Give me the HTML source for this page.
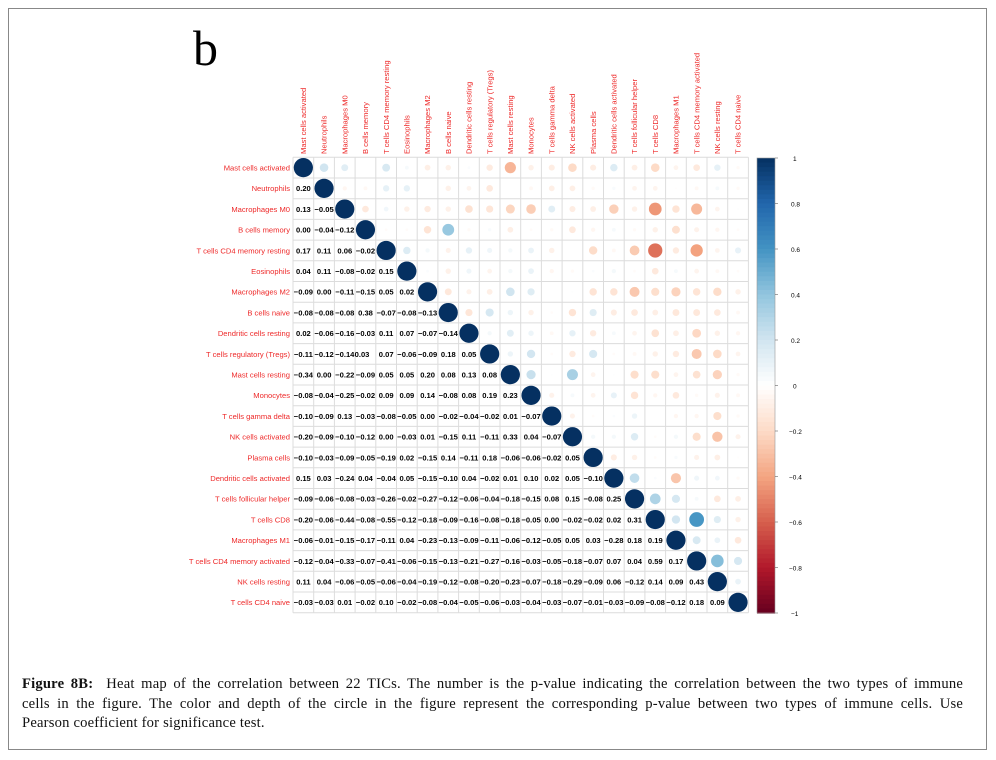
<!DOCTYPE html>
<html><head><meta charset="utf-8"><style>
body{margin:0;background:#fff;width:996px;height:760px;overflow:hidden;position:relative}
#frame{position:absolute;left:8px;top:8px;width:979px;height:742px;border:1px solid #888;box-sizing:border-box}
#cap{position:absolute;left:22px;top:675px;width:941px;font-family:"Liberation Serif",serif;font-size:14.6px;line-height:19.5px;color:#111;letter-spacing:0.2px}
#cap div{text-align:justify;text-align-last:justify;white-space:nowrap}
#cap div.last{text-align-last:left}
svg{position:absolute;left:0;top:0}
.n{font-family:"Liberation Sans",sans-serif;font-size:7.6px;font-weight:bold;text-anchor:middle;fill:#000}
.l{font-family:"Liberation Sans",sans-serif;font-size:7.6px;fill:#ee2a2a}
.t{font-family:"Liberation Sans",sans-serif;font-size:6.5px;fill:#000}
</style></head><body>
<div id="frame"></div>
<svg id="s" width="996" height="760" xmlns="http://www.w3.org/2000/svg">
<text x="193" y="65" font-family="Liberation Serif,serif" font-size="50">b</text>
<g id="grid"></g><g id="circ"></g><g id="cb"></g>
<g class="l" text-anchor="end">
<text x="290" y="170.5">Mast cells activated</text>
<text x="290" y="191.2">Neutrophils</text>
<text x="290" y="211.9">Macrophages M0</text>
<text x="290" y="232.6">B cells memory</text>
<text x="290" y="253.3">T cells CD4 memory resting</text>
<text x="290" y="274">Eosinophils</text>
<text x="290" y="294.7">Macrophages M2</text>
<text x="290" y="315.4">B cells naive</text>
<text x="290" y="336.1">Dendritic cells resting</text>
<text x="290" y="356.8">T cells regulatory (Tregs)</text>
<text x="290" y="377.5">Mast cells resting</text>
<text x="290" y="398.2">Monocytes</text>
<text x="290" y="418.9">T cells gamma delta</text>
<text x="290" y="439.6">NK cells activated</text>
<text x="290" y="460.3">Plasma cells</text>
<text x="290" y="481">Dendritic cells activated</text>
<text x="290" y="501.7">T cells follicular helper</text>
<text x="290" y="522.4">T cells CD8</text>
<text x="290" y="543.1">Macrophages M1</text>
<text x="290" y="563.8">T cells CD4 memory activated</text>
<text x="290" y="584.5">NK cells resting</text>
<text x="290" y="605.2">T cells CD4 naive</text>
</g>
<g class="l">
<text transform="translate(306,154) rotate(-90)">Mast cells activated</text>
<text transform="translate(326.7,154) rotate(-90)">Neutrophils</text>
<text transform="translate(347.4,154) rotate(-90)">Macrophages M0</text>
<text transform="translate(368.1,154) rotate(-90)">B cells memory</text>
<text transform="translate(388.8,154) rotate(-90)">T cells CD4 memory resting</text>
<text transform="translate(409.5,154) rotate(-90)">Eosinophils</text>
<text transform="translate(430.2,154) rotate(-90)">Macrophages M2</text>
<text transform="translate(450.9,154) rotate(-90)">B cells naive</text>
<text transform="translate(471.6,154) rotate(-90)">Dendritic cells resting</text>
<text transform="translate(492.3,154) rotate(-90)">T cells regulatory (Tregs)</text>
<text transform="translate(513,154) rotate(-90)">Mast cells resting</text>
<text transform="translate(533.7,154) rotate(-90)">Monocytes</text>
<text transform="translate(554.4,154) rotate(-90)">T cells gamma delta</text>
<text transform="translate(575.1,154) rotate(-90)">NK cells activated</text>
<text transform="translate(595.8,154) rotate(-90)">Plasma cells</text>
<text transform="translate(616.5,154) rotate(-90)">Dendritic cells activated</text>
<text transform="translate(637.2,154) rotate(-90)">T cells follicular helper</text>
<text transform="translate(657.9,154) rotate(-90)">T cells CD8</text>
<text transform="translate(678.6,154) rotate(-90)">Macrophages M1</text>
<text transform="translate(699.3,154) rotate(-90)">T cells CD4 memory activated</text>
<text transform="translate(720,154) rotate(-90)">NK cells resting</text>
<text transform="translate(740.7,154) rotate(-90)">T cells CD4 naive</text>
</g>
<g class="n">
<text y="191.2"><tspan x="303.4">0.20</tspan></text>
<text y="211.9"><tspan x="303.4">0.13</tspan><tspan x="324.1">−0.05</tspan></text>
<text y="232.6"><tspan x="303.4">0.00</tspan><tspan x="324.1">−0.04</tspan><tspan x="344.8">−0.12</tspan></text>
<text y="253.3"><tspan x="303.4">0.17</tspan><tspan x="324.1">0.11</tspan><tspan x="344.8">0.06</tspan><tspan x="365.5">−0.02</tspan></text>
<text y="274"><tspan x="303.4">0.04</tspan><tspan x="324.1">0.11</tspan><tspan x="344.8">−0.08</tspan><tspan x="365.5">−0.02</tspan><tspan x="386.2">0.15</tspan></text>
<text y="294.7"><tspan x="303.4">−0.09</tspan><tspan x="324.1">0.00</tspan><tspan x="344.8">−0.11</tspan><tspan x="365.5">−0.15</tspan><tspan x="386.2">0.05</tspan><tspan x="406.9">0.02</tspan></text>
<text y="315.4"><tspan x="303.4">−0.08</tspan><tspan x="324.1">−0.08</tspan><tspan x="344.8">−0.08</tspan><tspan x="365.5">0.38</tspan><tspan x="386.2">−0.07</tspan><tspan x="406.9">−0.08</tspan><tspan x="427.6">−0.13</tspan></text>
<text y="336.1"><tspan x="303.4">0.02</tspan><tspan x="324.1">−0.06</tspan><tspan x="344.8">−0.16</tspan><tspan x="365.5">−0.03</tspan><tspan x="386.2">0.11</tspan><tspan x="406.9">0.07</tspan><tspan x="427.6">−0.07</tspan><tspan x="448.3">−0.14</tspan></text>
<text y="356.8"><tspan x="303.4">−0.11</tspan><tspan x="324.1">−0.12</tspan><tspan x="344.8">−0.14</tspan><tspan x="362">0.03</tspan><tspan x="386.2">0.07</tspan><tspan x="406.9">−0.06</tspan><tspan x="427.6">−0.09</tspan><tspan x="448.3">0.18</tspan><tspan x="469">0.05</tspan></text>
<text y="377.5"><tspan x="303.4">−0.34</tspan><tspan x="324.1">0.00</tspan><tspan x="344.8">−0.22</tspan><tspan x="365.5">−0.09</tspan><tspan x="386.2">0.05</tspan><tspan x="406.9">0.05</tspan><tspan x="427.6">0.20</tspan><tspan x="448.3">0.08</tspan><tspan x="469">0.13</tspan><tspan x="489.7">0.08</tspan></text>
<text y="398.2"><tspan x="303.4">−0.08</tspan><tspan x="324.1">−0.04</tspan><tspan x="344.8">−0.25</tspan><tspan x="365.5">−0.02</tspan><tspan x="386.2">0.09</tspan><tspan x="406.9">0.09</tspan><tspan x="427.6">0.14</tspan><tspan x="448.3">−0.08</tspan><tspan x="469">0.08</tspan><tspan x="489.7">0.19</tspan><tspan x="510.4">0.23</tspan></text>
<text y="418.9"><tspan x="303.4">−0.10</tspan><tspan x="324.1">−0.09</tspan><tspan x="344.8">0.13</tspan><tspan x="365.5">−0.03</tspan><tspan x="386.2">−0.08</tspan><tspan x="406.9">−0.05</tspan><tspan x="427.6">0.00</tspan><tspan x="448.3">−0.02</tspan><tspan x="469">−0.04</tspan><tspan x="489.7">−0.02</tspan><tspan x="510.4">0.01</tspan><tspan x="531.1">−0.07</tspan></text>
<text y="439.6"><tspan x="303.4">−0.20</tspan><tspan x="324.1">−0.09</tspan><tspan x="344.8">−0.10</tspan><tspan x="365.5">−0.12</tspan><tspan x="386.2">0.00</tspan><tspan x="406.9">−0.03</tspan><tspan x="427.6">0.01</tspan><tspan x="448.3">−0.15</tspan><tspan x="469">0.11</tspan><tspan x="489.7">−0.11</tspan><tspan x="510.4">0.33</tspan><tspan x="531.1">0.04</tspan><tspan x="551.8">−0.07</tspan></text>
<text y="460.3"><tspan x="303.4">−0.10</tspan><tspan x="324.1">−0.03</tspan><tspan x="344.8">−0.09</tspan><tspan x="365.5">−0.05</tspan><tspan x="386.2">−0.19</tspan><tspan x="406.9">0.02</tspan><tspan x="427.6">−0.15</tspan><tspan x="448.3">0.14</tspan><tspan x="469">−0.11</tspan><tspan x="489.7">0.18</tspan><tspan x="510.4">−0.06</tspan><tspan x="531.1">−0.06</tspan><tspan x="551.8">−0.02</tspan><tspan x="572.5">0.05</tspan></text>
<text y="481"><tspan x="303.4">0.15</tspan><tspan x="324.1">0.03</tspan><tspan x="344.8">−0.24</tspan><tspan x="365.5">0.04</tspan><tspan x="386.2">−0.04</tspan><tspan x="406.9">0.05</tspan><tspan x="427.6">−0.15</tspan><tspan x="448.3">−0.10</tspan><tspan x="469">0.04</tspan><tspan x="489.7">−0.02</tspan><tspan x="510.4">0.01</tspan><tspan x="531.1">0.10</tspan><tspan x="551.8">0.02</tspan><tspan x="572.5">0.05</tspan><tspan x="593.2">−0.10</tspan></text>
<text y="501.7"><tspan x="303.4">−0.09</tspan><tspan x="324.1">−0.06</tspan><tspan x="344.8">−0.08</tspan><tspan x="365.5">−0.03</tspan><tspan x="386.2">−0.26</tspan><tspan x="406.9">−0.02</tspan><tspan x="427.6">−0.27</tspan><tspan x="448.3">−0.12</tspan><tspan x="469">−0.06</tspan><tspan x="489.7">−0.04</tspan><tspan x="510.4">−0.18</tspan><tspan x="531.1">−0.15</tspan><tspan x="551.8">0.08</tspan><tspan x="572.5">0.15</tspan><tspan x="593.2">−0.08</tspan><tspan x="613.9">0.25</tspan></text>
<text y="522.4"><tspan x="303.4">−0.20</tspan><tspan x="324.1">−0.06</tspan><tspan x="344.8">−0.44</tspan><tspan x="365.5">−0.08</tspan><tspan x="386.2">−0.55</tspan><tspan x="406.9">−0.12</tspan><tspan x="427.6">−0.18</tspan><tspan x="448.3">−0.09</tspan><tspan x="469">−0.16</tspan><tspan x="489.7">−0.08</tspan><tspan x="510.4">−0.18</tspan><tspan x="531.1">−0.05</tspan><tspan x="551.8">0.00</tspan><tspan x="572.5">−0.02</tspan><tspan x="593.2">−0.02</tspan><tspan x="613.9">0.02</tspan><tspan x="634.6">0.31</tspan></text>
<text y="543.1"><tspan x="303.4">−0.06</tspan><tspan x="324.1">−0.01</tspan><tspan x="344.8">−0.15</tspan><tspan x="365.5">−0.17</tspan><tspan x="386.2">−0.11</tspan><tspan x="406.9">0.04</tspan><tspan x="427.6">−0.23</tspan><tspan x="448.3">−0.13</tspan><tspan x="469">−0.09</tspan><tspan x="489.7">−0.11</tspan><tspan x="510.4">−0.06</tspan><tspan x="531.1">−0.12</tspan><tspan x="551.8">−0.05</tspan><tspan x="572.5">0.05</tspan><tspan x="593.2">0.03</tspan><tspan x="613.9">−0.28</tspan><tspan x="634.6">0.18</tspan><tspan x="655.3">0.19</tspan></text>
<text y="563.8"><tspan x="303.4">−0.12</tspan><tspan x="324.1">−0.04</tspan><tspan x="344.8">−0.33</tspan><tspan x="365.5">−0.07</tspan><tspan x="386.2">−0.41</tspan><tspan x="406.9">−0.06</tspan><tspan x="427.6">−0.15</tspan><tspan x="448.3">−0.13</tspan><tspan x="469">−0.21</tspan><tspan x="489.7">−0.27</tspan><tspan x="510.4">−0.16</tspan><tspan x="531.1">−0.03</tspan><tspan x="551.8">−0.05</tspan><tspan x="572.5">−0.18</tspan><tspan x="593.2">−0.07</tspan><tspan x="613.9">0.07</tspan><tspan x="634.6">0.04</tspan><tspan x="655.3">0.59</tspan><tspan x="676">0.17</tspan></text>
<text y="584.5"><tspan x="303.4">0.11</tspan><tspan x="324.1">0.04</tspan><tspan x="344.8">−0.06</tspan><tspan x="365.5">−0.05</tspan><tspan x="386.2">−0.06</tspan><tspan x="406.9">−0.04</tspan><tspan x="427.6">−0.19</tspan><tspan x="448.3">−0.12</tspan><tspan x="469">−0.08</tspan><tspan x="489.7">−0.20</tspan><tspan x="510.4">−0.23</tspan><tspan x="531.1">−0.07</tspan><tspan x="551.8">−0.18</tspan><tspan x="572.5">−0.29</tspan><tspan x="593.2">−0.09</tspan><tspan x="613.9">0.06</tspan><tspan x="634.6">−0.12</tspan><tspan x="655.3">0.14</tspan><tspan x="676">0.09</tspan><tspan x="696.7">0.43</tspan></text>
<text y="605.2"><tspan x="303.4">−0.03</tspan><tspan x="324.1">−0.03</tspan><tspan x="344.8">0.01</tspan><tspan x="365.5">−0.02</tspan><tspan x="386.2">0.10</tspan><tspan x="406.9">−0.02</tspan><tspan x="427.6">−0.08</tspan><tspan x="448.3">−0.04</tspan><tspan x="469">−0.05</tspan><tspan x="489.7">−0.06</tspan><tspan x="510.4">−0.03</tspan><tspan x="531.1">−0.04</tspan><tspan x="551.8">−0.03</tspan><tspan x="572.5">−0.07</tspan><tspan x="593.2">−0.01</tspan><tspan x="613.9">−0.03</tspan><tspan x="634.6">−0.09</tspan><tspan x="655.3">−0.08</tspan><tspan x="676">−0.12</tspan><tspan x="696.7">0.18</tspan><tspan x="717.4">0.09</tspan></text>
</g>
<g class="t">
<text x="793" y="161">1</text><text x="791" y="206.5">0.8</text><text x="791" y="252">0.6</text><text x="791" y="297.5">0.4</text><text x="791" y="343">0.2</text><text x="793" y="388.5">0</text><text x="789" y="434">−0.2</text><text x="789" y="479.5">−0.4</text><text x="789" y="525">−0.6</text><text x="789" y="570.5">−0.8</text><text x="791" y="616">−1</text>
</g>
</svg>
<div id="cap">
<div><b>Figure 8B:</b>&nbsp; Heat map of the correlation between 22 TICs. The number is the p-value indicating the correlation between the two types of immune</div>
<div>cells in the figure. The color and depth of the circle in the figure represent the corresponding p-value between two types of immune cells. Use</div>
<div class="last">Pearson coefficient for significance test.</div>
</div>
<script>
var L=[[],[.20],[.13,-.05],[0,-.04,-.12],[.17,.11,.06,-.02],[.04,.11,-.08,-.02,.15],[-.09,0,-.11,-.15,.05,.02],[-.08,-.08,-.08,.38,-.07,-.08,-.13],[.02,-.06,-.16,-.03,.11,.07,-.07,-.14],[-.11,-.12,-.14,.03,.07,-.06,-.09,.18,.05],[-.34,0,-.22,-.09,.05,.05,.20,.08,.13,.08],[-.08,-.04,-.25,-.02,.09,.09,.14,-.08,.08,.19,.23],[-.10,-.09,.13,-.03,-.08,-.05,0,-.02,-.04,-.02,.01,-.07],[-.20,-.09,-.10,-.12,0,-.03,.01,-.15,.11,-.11,.33,.04,-.07],[-.10,-.03,-.09,-.05,-.19,.02,-.15,.14,-.11,.18,-.06,-.06,-.02,.05],[.15,.03,-.24,.04,-.04,.05,-.15,-.10,.04,-.02,.01,.10,.02,.05,-.10],[-.09,-.06,-.08,-.03,-.26,-.02,-.27,-.12,-.06,-.04,-.18,-.15,.08,.15,-.08,.25],[-.20,-.06,-.44,-.08,-.55,-.12,-.18,-.09,-.16,-.08,-.18,-.05,0,-.02,-.02,.02,.31],[-.06,-.01,-.15,-.17,-.11,.04,-.23,-.13,-.09,-.11,-.06,-.12,-.05,.05,.03,-.28,.18,.19],[-.12,-.04,-.33,-.07,-.41,-.06,-.15,-.13,-.21,-.27,-.16,-.03,-.05,-.18,-.07,.07,.04,.59,.17],[.11,.04,-.06,-.05,-.06,-.04,-.19,-.12,-.08,-.20,-.23,-.07,-.18,-.29,-.09,.06,-.12,.14,.09,.43],[-.03,-.03,.01,-.02,.10,-.02,-.08,-.04,-.05,-.06,-.03,-.04,-.03,-.07,-.01,-.03,-.09,-.08,-.12,.18,.09]];
var P=[[103,0,31],[178,24,43],[214,96,77],[244,165,130],[253,219,199],[255,255,255],[209,229,240],[146,197,222],[67,147,195],[33,102,172],[5,48,97]];
function col(v){var t=(v+1)*5;var i=Math.min(9,Math.floor(t)),f=t-i;var a=P[i],b=P[i+1];return 'rgb('+[0,1,2].map(function(k){return Math.round(a[k]+(b[k]-a[k])*f)}).join(',')+')';}
var NS='http://www.w3.org/2000/svg',g=document.getElementById('grid'),c=document.getElementById('circ'),cb=document.getElementById('cb');
function el(p,t,a){var e=document.createElementNS(NS,t);for(var k in a)e.setAttribute(k,a[k]);p.appendChild(e);return e;}
var x0=293,y0=157.3,s=20.7;
for(var i=0;i<=22;i++){el(g,'line',{x1:x0,x2:x0+22*s,y1:y0+i*s,y2:y0+i*s,stroke:'#dcdcdc','stroke-width':1});el(g,'line',{y1:y0,y2:y0+22*s,x1:x0+i*s,x2:x0+i*s,stroke:'#dcdcdc','stroke-width':1});}
for(var i=0;i<22;i++){for(var j=i;j<22;j++){var v=(i==j)?1:L[j][i];if(Math.abs(v)<0.005)continue;el(c,'circle',{cx:x0+s*(j+.5),cy:y0+s*(i+.5),r:9.6*Math.sqrt(Math.abs(v)),fill:col(v)});}}
var cy0=158,cy1=613,n=100;for(var k=0;k<n;k++){var v=1-2*(k+.5)/n;el(cb,'rect',{x:757,y:cy0+(cy1-cy0)*k/n,width:18,height:(cy1-cy0)/n+.6,fill:col(v)});}
el(cb,'rect',{x:757,y:cy0,width:18,height:cy1-cy0,fill:'none',stroke:'#999','stroke-width':.6});
for(var k=0;k<=10;k++){var y=cy0+(cy1-cy0)*k/10;el(cb,'line',{x1:775,x2:778,y1:y,y2:y,stroke:'#666','stroke-width':.6});}
</script>
</body></html>
